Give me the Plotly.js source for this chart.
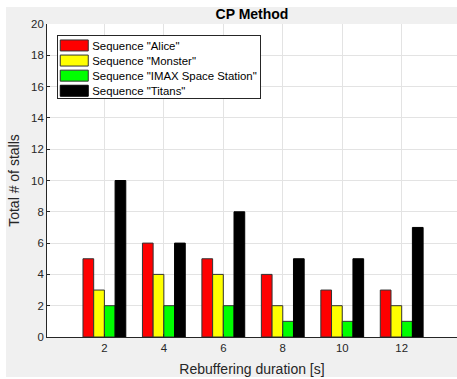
<!DOCTYPE html>
<html>
<head>
<meta charset="utf-8">
<script src="https://cdn.plot.ly/plotly-3.0.1.min.js"></script>
<style>
html,body{margin:0;padding:0;background:#fff;width:457px;height:379px;overflow:hidden;}
#chart{position:absolute;left:6px;top:7px;width:451px;height:370px;}
</style>
</head>
<body>
<div id="chart"></div>
<script>
const durations = [2, 4, 6, 8, 10, 12];
const seriesNames = ['Sequence "Alice"', 'Sequence "Monster"', 'Sequence "IMAX Space Station"', 'Sequence "Titans"'];
const alice = [5, 6, 5, 4, 3, 3];
const monster = [3, 4, 4, 2, 2, 2];
const imax = [2, 2, 2, 1, 1, 1];
const titans = [10, 6, 8, 5, 5, 7];
const yTicks = [0, 2, 4, 6, 8, 10, 12, 14, 16, 18, 20];

const colors = ['#ff0000', '#ffff00', '#00ff00', '#000000'];
const values = [alice, monster, imax, titans];

const traces = values.map((v, i) => ({
  type: 'bar',
  x: durations,
  y: v,
  name: seriesNames[i],
  marker: {color: colors[i], line: {color: i === 3 ? '#000000' : '#333333', width: 1}},
  hoverinfo: 'x+y'
}));

const fam = 'Liberation Sans, Arial, sans-serif';

const layout = {
  width: 451, height: 370,
  margin: {l: 41, r: 0, t: 17, b: 40, pad: 0},
  paper_bgcolor: '#f0f0f0',
  plot_bgcolor: '#ffffff',
  font: {family: fam, color: '#262626', size: 11.4},
  barmode: 'group',
  bargap: 0.28,
  bargroupgap: 0,
  title: {text: '<b>CP Method</b>', font: {family: fam, size: 14, color: '#000000'}, x: 0.5, xref: 'paper', y: 1, yref: 'paper', yanchor: 'bottom', pad: {b: 5}},
  xaxis: {
    range: [0.07, 13.86],
    tickvals: durations,
    ticktext: durations.map(String),
    showgrid: true, gridcolor: '#e3e3e3', gridwidth: 1,
    showline: true, linecolor: '#262626', linewidth: 1,
    ticks: 'inside', ticklen: 3, tickcolor: '#262626',
    zeroline: false,
    tickfont: {size: 11.4, color: '#262626'},
    title: {text: 'Rebuffering duration [s]', font: {size: 14, color: '#262626'}, standoff: 12}
  },
  yaxis: {
    range: [0, 20],
    tickvals: yTicks,
    ticktext: yTicks.map(String),
    showgrid: true, gridcolor: '#e3e3e3', gridwidth: 1,
    showline: true, linecolor: '#262626', linewidth: 1,
    ticks: 'inside', ticklen: 3, tickcolor: '#262626',
    zeroline: false,
    tickfont: {size: 11.4, color: '#262626'},
    title: {text: 'Total # of stalls', font: {size: 14, color: '#262626'}, standoff: 8}
  },
  legend: {
    x: 0.025, y: 0.965, xanchor: 'left', yanchor: 'top',
    bgcolor: '#ffffff', bordercolor: '#262626', borderwidth: 1,
    font: {size: 11.4, color: '#000000'},
    traceorder: 'normal', tracegroupgap: 0,
    itemclick: false
  },
  showlegend: true
};

Plotly.newPlot('chart', traces, layout, {displayModeBar: false, staticPlot: true}).then(() => {
  const leg = document.querySelector('#chart .legend');
  if (!leg) return;
  const bg = leg.querySelector('rect.bg');
  if (bg) { bg.setAttribute('width', 203); bg.setAttribute('height', 63); }
  const items = leg.querySelectorAll('g.traces');
  items.forEach((g, i) => {
    g.setAttribute('transform', 'translate(1,' + (10.5 + i * 15.1) + ')');
    const t = g.querySelector('text.legendtext');
    if (t) {
      t.setAttribute('x', 34);
      t.querySelectorAll('tspan').forEach(ts => ts.setAttribute('x', 34));
    }
    g.querySelectorAll('.legendpoints, .legendpoints g').forEach(e => e.removeAttribute('transform'));
    g.querySelectorAll('.legendpoints path').forEach(p => {
      p.removeAttribute('transform');
      p.setAttribute('d', 'M2,5.5H30V-5.5H2Z');
    });
  });
});
</script>
</body>
</html>
